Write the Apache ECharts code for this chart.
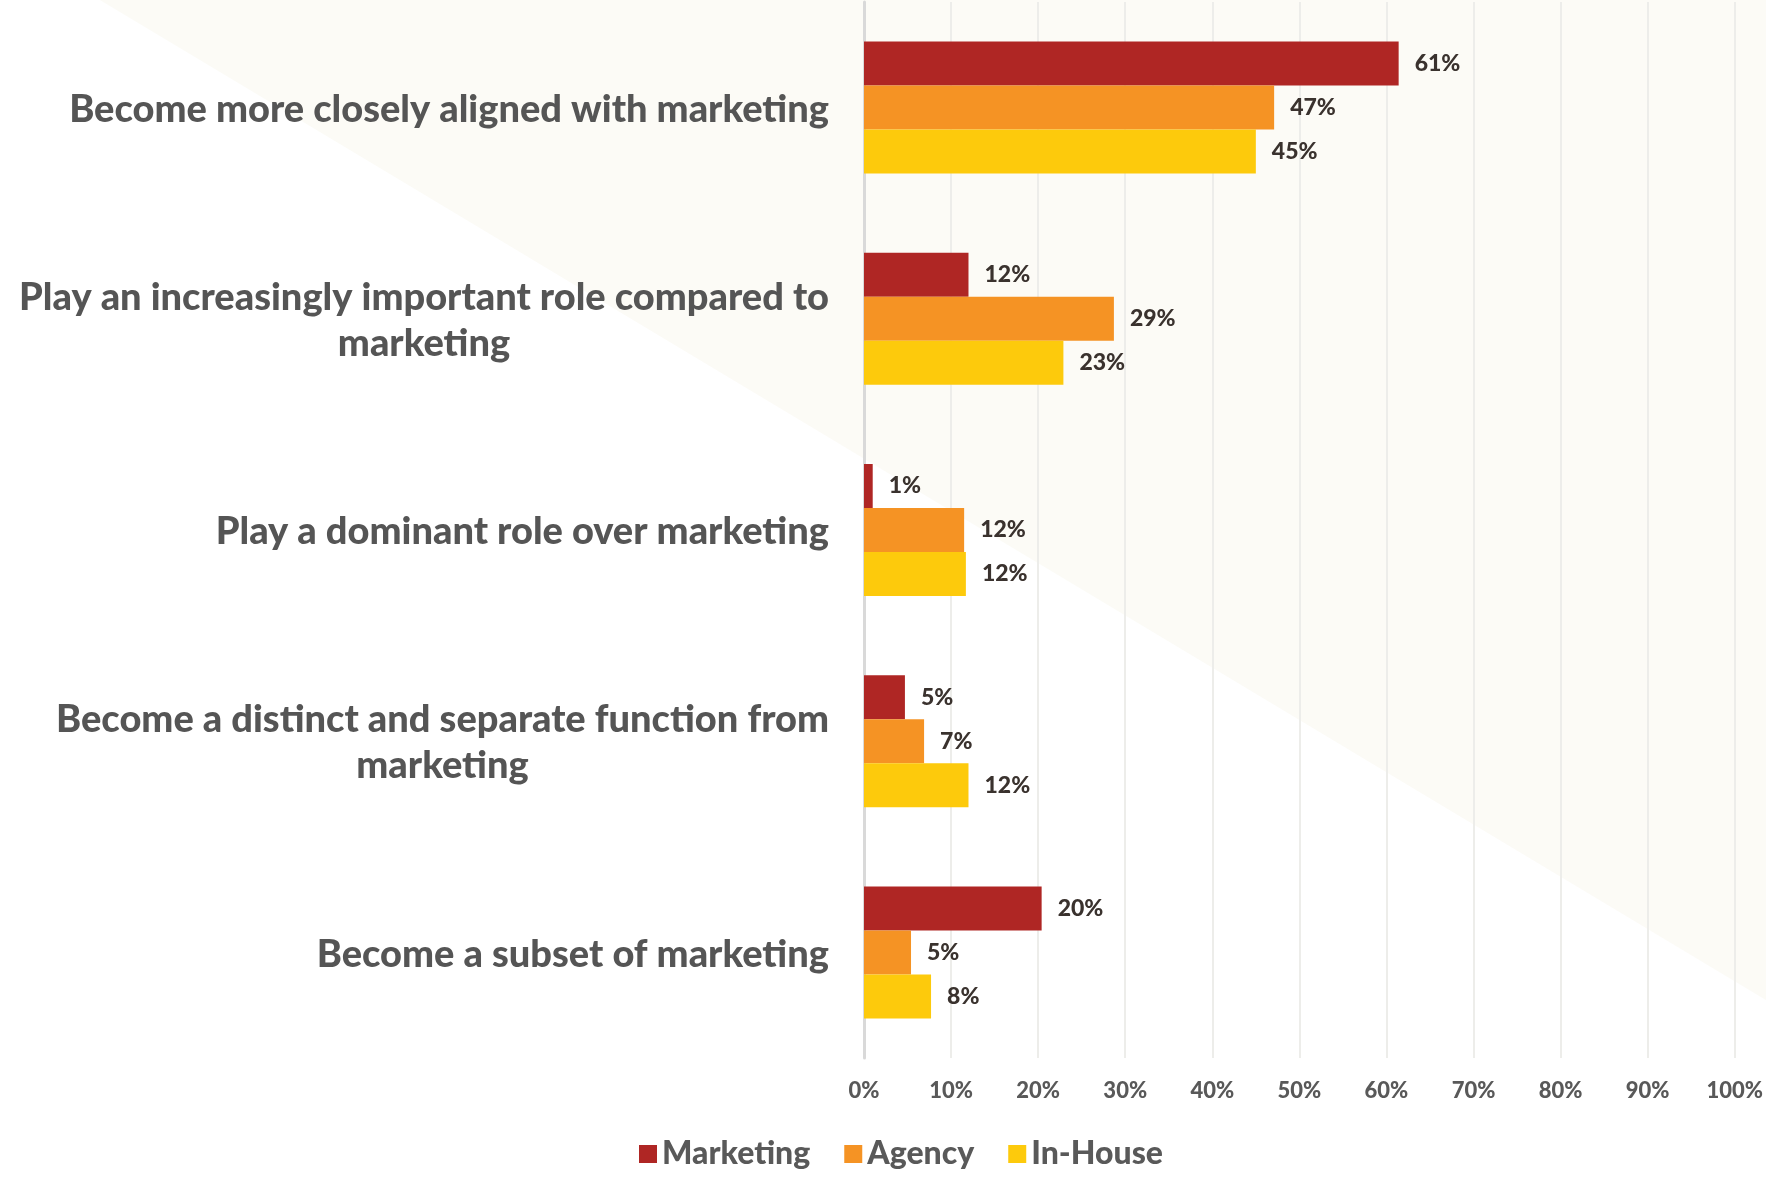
<!DOCTYPE html>
<html>
<head>
<meta charset="utf-8">
<script src="https://cdn.jsdelivr.net/npm/echarts@6/dist/echarts.min.js"></script>
<style>
html,body{margin:0;padding:0;background:#fff;}
#chart{width:1766px;height:1177px;}
</style>
</head>
<body>
<div id="chart"></div>
<script>
const categories = [
  "Become more closely aligned with marketing",
  "Play an increasingly important role compared to\nmarketing",
  "Play a dominant role over marketing",
  "Become a distinct and separate function from\nmarketing",
  "Become a subset of marketing"
];
const seriesNames = ["Marketing", "Agency", "In-House"];
const marketing = [61.4, 12, 1, 4.7, 20.4];
const agency = [47.1, 28.7, 11.5, 6.9, 5.4];
const inHouse = [45, 22.9, 11.7, 12, 7.7];
const xTicks = [0, 10, 20, 30, 40, 50, 60, 70, 80, 90, 100];

const colors = ["#AF2624", "#F59324", "#FDCA0C"];
const FONT = "Lato";

const chart = echarts.init(document.getElementById('chart'), null, {renderer: 'canvas'});

const labelStyle = {
  show: true,
  position: 'right',
  distance: 16,
  formatter: p => Math.round(p.value) + '%',
  fontFamily: FONT,
  fontWeight: 900,
  fontSize: 23,
  color: '#3A322E',
  padding: [4, 0, 0, 0]
};

const valuesBySeries = [marketing, agency, inHouse];

chart.setOption({
  backgroundColor: '#ffffff',
  animation: false,
  graphic: [{
    type: 'polygon',
    z: -10,
    silent: true,
    shape: { points: [[100, 0], [1766, 0], [1766, 1000]] },
    style: { fill: '#FCFBF6' }
  }],
  grid: { left: 864, right: 31, top: 2, bottom: 119, containLabel: false },
  legend: {
    bottom: 2,
    left: 634,
    itemWidth: 18,
    itemHeight: 18,
    itemGap: 34,
    icon: 'rect',
    textStyle: { fontFamily: FONT, fontWeight: 900, fontSize: 32, color: '#595959' },
    data: seriesNames
  },
  xAxis: {
    type: 'value',
    min: 0,
    max: 100,
    interval: 10,
    axisLine: { show: false },
    axisTick: { show: false },
    splitLine: { show: true, lineStyle: { color: '#EDEDEA', width: 2 } },
    axisLabel: {
      margin: 22,
      fontFamily: FONT,
      fontWeight: 900,
      fontSize: 22,
      color: '#595959',
      formatter: v => xTicks.includes(v) ? v + '%' : ''
    }
  },
  yAxis: {
    type: 'category',
    inverse: true,
    data: categories,
    axisTick: { show: false },
    axisLine: { show: true, lineStyle: { color: '#D9D9D9', width: 3 } },
    axisLabel: {
      margin: 35,
      formatter: v => v.split('\n').map(l => '{a|' + l + '}').join('\n'),
      rich: {
        a: {
          align: 'center',
          fontFamily: FONT,
          fontWeight: 900,
          fontSize: 38,
          lineHeight: 46,
          color: '#555555',
          padding: [4, 0, 0, 0]
        }
      }
    }
  },
  series: seriesNames.map((name, i) => ({
    name,
    type: 'bar',
    data: valuesBySeries[i],
    barGap: '0%',
    barCategoryGap: '37.5%',
    itemStyle: { color: colors[i] },
    label: labelStyle
  }))
});
</script>
</body>
</html>
